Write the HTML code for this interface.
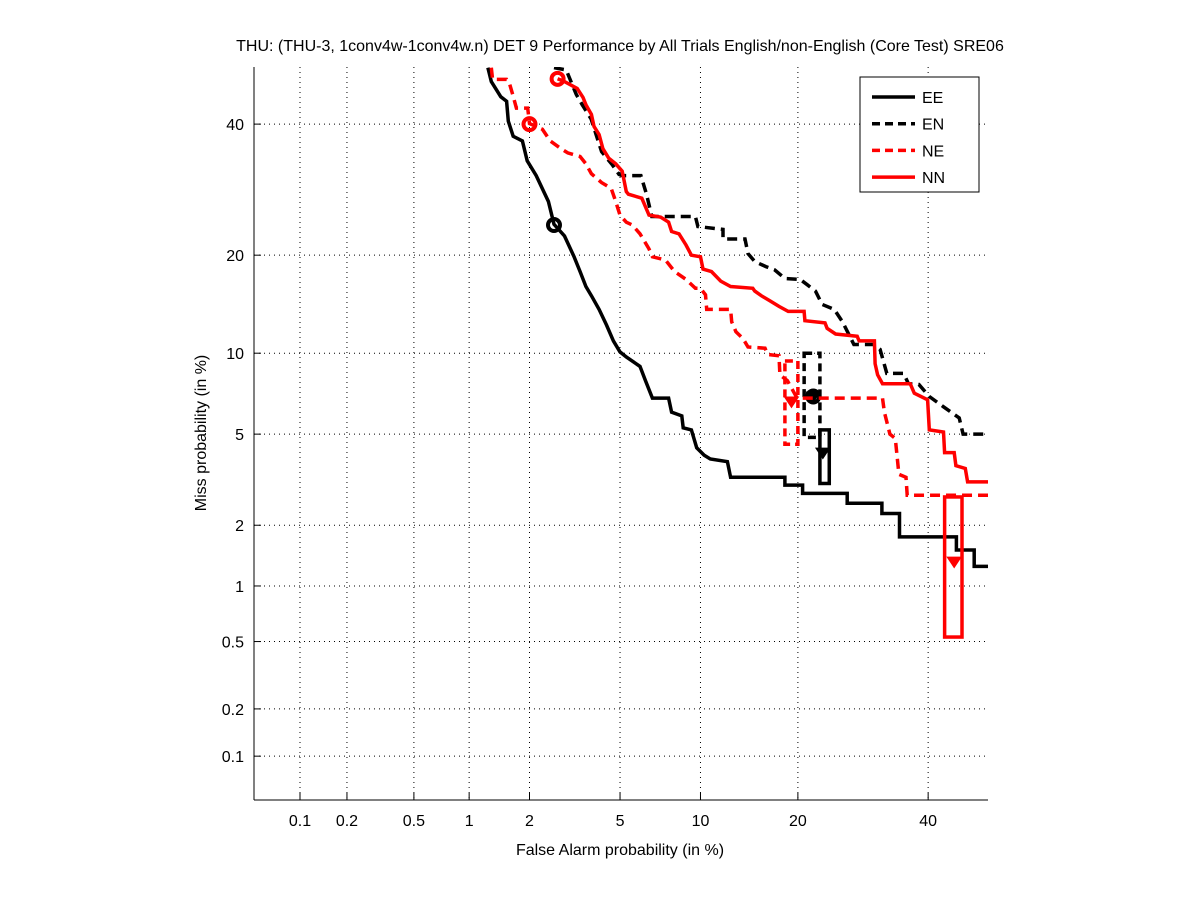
<!DOCTYPE html>
<html><head><meta charset="utf-8"><style>
body{margin:0;background:#fff;}
svg{display:block;font-family:"Liberation Sans",sans-serif;}
</style></head><body>
<svg id="c" width="1201" height="900"></svg>
<script>
const xTicks=[0.1,0.2,0.5,1,2,5,10,20,40];
const yTicks=[0.1,0.2,0.5,1,2,5,10,20,40];
const seriesNames=["EE","EN","NE","NN"];
const eeFA=[1.25,1.3,1.45,1.55,1.58,1.67,1.85,1.95,2.15,2.45,2.6,2.9,3.2,3.4,3.6,3.8,4.1,4.4,4.7,5.0,5.3,6.0,6.3,6.7,7.7,7.9,8.6,8.7,9.3,9.7,10.3,10.8,12.3,12.6,18.4,18.4,20.6,20.6,26.8,26.8,32.2,32.2,35.1,35.1,45,45,48.2,48.2,51];
const eeMiss=[50,47.5,44.8,44,40.5,37.9,37.1,33.8,31.4,27.4,24.1,22.5,19.8,18.0,16.3,15.3,13.9,12.4,11.0,10.1,9.7,9.0,8.0,6.9,6.9,6.1,5.9,5.3,5.2,4.4,4.1,3.95,3.85,3.3,3.3,3.05,3.05,2.8,2.8,2.53,2.53,2.27,2.27,1.76,1.76,1.52,1.52,1.26,1.26];
const enFA=[2.6,2.95,3.27,3.47,3.79,3.98,4.2,4.64,4.95,5.1,6.05,6.36,6.66,9.6,9.8,11.9,11.9,14.0,14.3,15.0,16.2,17.2,18.4,20.3,21.2,22.3,23.2,24.9,26.1,27.8,30.9,31.9,33.0,35.8,36.6,38.4,40.2,42.7,45.5,46.2,51];
const enMiss=[50,49.6,45.2,43.4,40.9,38.2,35.3,33.2,31.6,31.4,31.4,28.5,25.2,25.2,23.8,23.4,22.1,22.1,20.2,19.2,18.6,18.2,17.2,17.1,16.5,15.8,14.4,13.9,12.7,10.7,10.7,10.3,8.5,8.5,7.8,7.75,7.0,6.4,5.8,5.0,5.0];
const neFA=[1.3,1.32,1.55,1.6,1.66,1.73,1.96,2.0,2.3,2.5,2.8,3.0,3.4,3.6,3.8,4.2,4.6,4.8,5.0,5.3,5.6,6.0,6.5,6.7,7.5,8.1,8.9,9.6,10.0,10.4,10.5,12.6,12.7,13.1,13.8,14.3,16.1,16.4,17.7,17.8,18.7,19.9,32.3,32.6,33.5,34.4,35.0,36.2,36.4,51];
const neMiss=[50,47.9,47.9,47.2,45.2,42.8,42.8,40.1,39.1,37.1,35.8,35.1,34.5,33.3,31.7,30.3,29.4,27.4,25.4,24.4,24.0,22.8,20.8,19.8,19.4,18.0,17.1,16.1,16.1,15.4,13.9,13.9,12.7,11.8,11.2,10.5,10.4,9.9,9.8,8.4,8.0,6.9,6.9,6.1,5.0,4.8,3.4,3.3,2.75,2.75];
const nnFA=[2.7,2.9,3.3,3.5,3.6,3.8,3.9,4.1,4.25,4.5,4.8,5.1,5.3,5.4,6.1,6.5,7.2,7.7,7.9,8.4,8.9,9.3,10.0,10.2,10.9,11.7,12.6,14.8,15.0,15.7,16.6,17.7,18.8,20.8,20.9,23.6,23.9,25.1,28.3,28.6,31.0,31.1,31.5,32.3,36.9,37.6,39.9,40.2,42.7,42.9,44.6,44.9,46.6,47.0,51];
const nnMiss=[48,47.5,46.3,44.7,43.4,41.7,39.6,38.2,35.8,34.2,33.3,32.1,28.9,28.5,27.9,25.4,25.1,24.4,23.1,22.8,21.3,20.0,19.8,18.3,18.0,16.9,16.3,16.1,15.8,15.3,14.8,14.2,13.7,13.7,12.8,12.6,12.1,11.6,11.4,11.0,11.0,9.2,8.4,7.8,7.8,7.2,6.8,5.2,5.1,4.2,4.2,3.7,3.6,3.15,3.15];
const markFA=[2.6,22.0,2.0,2.7];
const markMiss=[24.0,7.0,40.0,48.0];
const markFA2=[23.3,22.0,19.2,44.6];
const markMiss2=[4.2,7.0,6.7,1.33];
const boxFA=[[22.9,24.2],[20.8,22.9],[18.4,20.0],[42.9,46.0]];
const boxMiss=[[3.1,5.2],[4.85,10.0],[4.55,9.4],[0.53,2.7]];

const colors=["#000","#000","#f00","#f00"];
const dashes=[null,"10,6","10,6",null];
const L=254,R=988,T=67,B=800;
function erf(x){const s=Math.sign(x);x=Math.abs(x);const t=1/(1+0.3275911*x);const y=1-(((((1.061405429*t-1.453152027)*t)+1.421413741)*t-0.284496736)*t+0.254829592)*t*Math.exp(-x*x);return s*y;}
function erfinv(x){const a=0.147;const ln=Math.log(1-x*x);const t=2/(Math.PI*a)+ln/2;let y=Math.sign(x)*Math.sqrt(Math.sqrt(t*t-ln/a)-t);
 for(let i=0;i<3;i++){const e=erf(y)-x;y-=e/(2/Math.sqrt(Math.PI)*Math.exp(-y*y));}return y;}
function probit(p){return Math.SQRT2*erfinv(2*p-1);}
const xzMin=-3.298,xzMax=0.017,yzMin=-3.287,yzMax=0.003;
function sx(pct){return L+(probit(pct/100)-xzMin)/(xzMax-xzMin)*(R-L);}
function sy(pct){return B-(probit(pct/100)-yzMin)/(yzMax-yzMin)*(B-T);}
const svg=document.getElementById('c');const NS="http://www.w3.org/2000/svg";
function mk(tag,attrs,parent){const e=document.createElementNS(NS,tag);for(const k in attrs)e.setAttribute(k,attrs[k]);(parent||svg).appendChild(e);return e;}
const defs=mk('defs',{});const cp=mk('clipPath',{id:'cp'},defs);mk('rect',{x:L,y:T,width:R-L,height:B-T},cp);
const grid=mk('g',{});


xTicks.forEach(v=>{const x=sx(v);mk('line',{x1:x,x2:x,y1:T,y2:B,stroke:'#000','stroke-width':1,'stroke-dasharray':'1,4'},grid);
 mk('line',{x1:x,x2:x,y1:B,y2:B-7,stroke:'#000'},grid);
 const t=mk('text',{x:x,y:826,'text-anchor':'middle','font-size':16},grid);t.textContent=v;
 
 });
yTicks.forEach(v=>{const y=sy(v);mk('line',{x1:L,x2:R,y1:y,y2:y,stroke:'#000','stroke-width':1,'stroke-dasharray':'1,4'},grid);
 mk('line',{x1:L,x2:L+7,y1:y,y2:y,stroke:'#000'},grid);
 const t=mk('text',{x:244,y:y+6,'text-anchor':'end','font-size':16},grid);t.textContent=v;
 
 });
mk('line',{x1:L,x2:L,y1:T,y2:B,stroke:'#000'});
mk('line',{x1:L,x2:R,y1:B,y2:B,stroke:'#000'});
const plot=mk('g',{'clip-path':'url(#cp)'});
const FAs=[eeFA,enFA,neFA,nnFA],Ms=[eeMiss,enMiss,neMiss,nnMiss];
for(let i=0;i<4;i++){
 const pts=FAs[i].map((f,j)=>sx(f).toFixed(1)+','+sy(Ms[i][j]).toFixed(1)).join(' ');
 const a={points:pts,fill:'none',stroke:colors[i],'stroke-width':3.5};if(dashes[i])a['stroke-dasharray']=dashes[i];
 const pl=mk('polyline',a,plot);
 
 
 const bx=boxFA[i],by=boxMiss[i];
 const ba={x:sx(bx[0]),y:sy(by[1]),width:sx(bx[1])-sx(bx[0]),height:sy(by[0])-sy(by[1]),fill:'none',stroke:colors[i],'stroke-width':3.5};
 if(dashes[i])ba['stroke-dasharray']='8,5';
 const r=mk('rect',ba,plot);
 
 
 const c1=mk('circle',{cx:sx(markFA[i]),cy:sy(markMiss[i]),r:6,fill:'none',stroke:colors[i],'stroke-width':4},plot);
 
 
 const c2=mk('path',{d:`M${sx(markFA2[i])-6},${sy(markMiss2[i])-4} L${sx(markFA2[i])+6},${sy(markMiss2[i])-4} L${sx(markFA2[i])},${sy(markMiss2[i])+5} Z`,fill:colors[i],stroke:colors[i],'stroke-width':2},plot);
 
 
}
const lg=mk('g',{});


mk('rect',{x:860,y:77,width:119,height:115,fill:'#fff',stroke:'#000'},lg);
for(let i=0;i<4;i++){const y=97+i*26.7;const a={x1:872,x2:915,y1:y,y2:y,stroke:colors[i],'stroke-width':3.5};if(dashes[i])a['stroke-dasharray']='8,5';mk('line',a,lg);
 const t=mk('text',{x:922,y:y+6,'font-size':16},lg);t.textContent=seriesNames[i];
 
 }
let t=mk('text',{x:620,y:51,'text-anchor':'middle','font-size':16});t.textContent="THU: (THU-3, 1conv4w-1conv4w.n) DET 9 Performance by All Trials English/non-English (Core Test) SRE06";


t=mk('text',{x:620,y:855,'text-anchor':'middle','font-size':16});t.textContent="False Alarm probability (in %)";


t=mk('text',{x:0,y:0,'text-anchor':'middle','font-size':16,transform:'translate(206,433) rotate(-90)'});t.textContent="Miss probability (in %)";


</script>
</body></html>
